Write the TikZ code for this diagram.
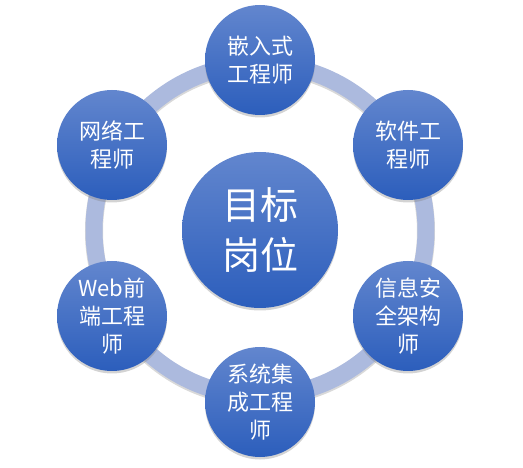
\documentclass[tikz,border=0pt]{standalone}
\usepackage{fontspec}
\newfontfamily\cjk{Noto Sans CJK SC}
\usetikzlibrary{shadows}
\definecolor{circtop}{RGB}{98,134,206}
\definecolor{circbot}{RGB}{44,94,188}
\definecolor{ringblue}{RGB}{172,186,222}

\begin{document}
\begin{tikzpicture}[x=1pt, y=-1pt,
    job/.style={circle, minimum size=110pt, inner sep=0pt, top color=circtop, bottom color=circbot,
                text=white, align=center, font=\cjk\fontsize{22}{28}\selectfont,
                drop shadow={opacity=0.35, shadow xshift=0pt, shadow yshift=-2.5pt}},
    goal/.style={job, minimum size=156pt, font=\cjk\fontsize{38}{50}\selectfont}
  ]
  \useasboundingbox (0,0) rectangle (523,468);
  \coordinate (hub) at (260,230);

  % ring behind the circles
  \draw[line width=18pt, black!25, opacity=0.6] ([yshift=-1.5pt]hub) circle (166pt);
  \draw[line width=17pt, ringblue] (hub) circle (166pt);

  \node[goal] (aim) at (hub) {目标\\岗位};

  \node[job] (embedded) at (260,60) {嵌入式\\工程师};
  \node[job] (software) at (408,145) {软件工\\程师};
  \node[job] (security) at (408,316) {信息安\\全架构\\师};
  \node[job] (integration) at (260,402) {系统集\\成工程\\师};
  \node[job] (web) at (112,316) {Web前\\端工程\\师};
  \node[job] (network) at (112,145) {网络工\\程师};
\end{tikzpicture}
\end{document}
